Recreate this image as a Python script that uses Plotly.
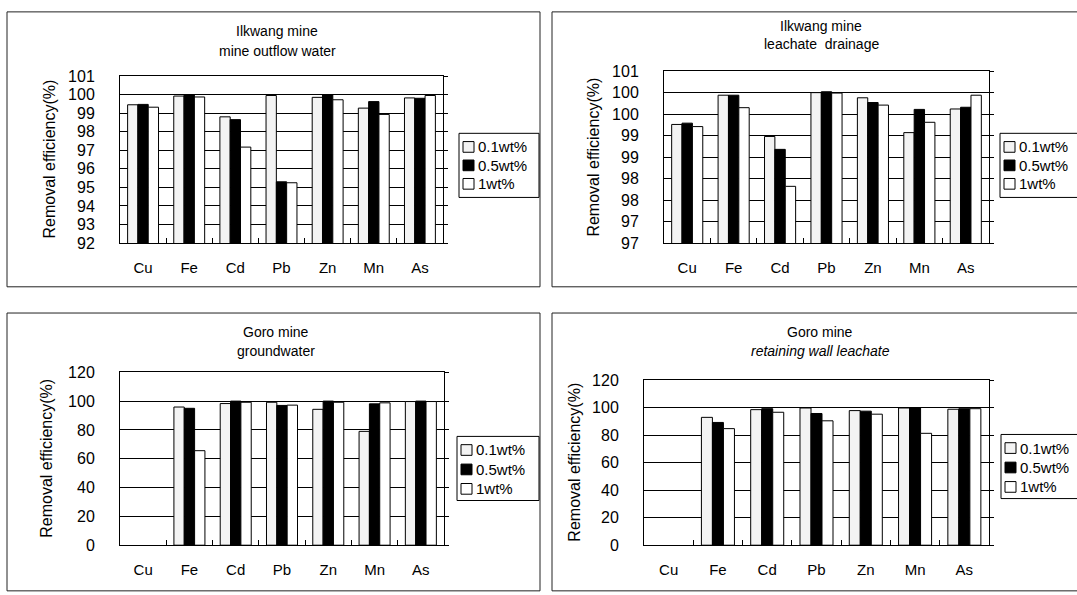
import plotly.graph_objects as go

W, H = 1077, 595

metals = ["Cu", "Fe", "Cd", "Pb", "Zn", "Mn", "As"]
doses = ["0.1wt%", "0.5wt%", "1wt%"]
dose_fills = ["#f3f3f3", "#000000", "#ffffff"]

# Ilkwang mine - mine outflow water (%)
outflow_01 = [99.45, 99.92, 98.80, 99.95, 99.85, 99.27, 99.82]
outflow_05 = [99.47, 99.98, 98.65, 95.30, 99.99, 99.62, 99.80]
outflow_1 = [99.32, 99.87, 97.17, 95.25, 99.72, 98.93, 99.95]

# Ilkwang mine - leachate drainage (%)
drainage_01 = [99.26, 99.94, 98.98, 100.00, 99.88, 99.07, 99.62]
drainage_05 = [99.29, 99.94, 98.68, 100.02, 99.77, 99.61, 99.66]
drainage_1 = [99.21, 99.65, 97.82, 99.99, 99.71, 99.31, 99.94]

# Goro mine - groundwater (%)
ground_01 = [None, 95.9, 98.3, 99.2, 94.3, 79.0, 99.7]
ground_05 = [None, 95.0, 100.0, 97.0, 100.0, 98.1, 100.0]
ground_1 = [None, 65.6, 99.2, 97.2, 99.2, 98.8, 99.7]

# Goro mine - retaining wall leachate (%)
wall_01 = [None, 92.9, 98.5, 99.7, 97.8, 99.7, 98.8]
wall_05 = [None, 89.2, 99.2, 95.7, 97.4, 99.7, 99.2]
wall_1 = [None, 84.7, 96.6, 90.4, 95.2, 81.3, 99.2]

# y-axis ticks
outflow_tickvals = [92, 93, 94, 95, 96, 97, 98, 99, 100, 101]
outflow_ticktext = ["92", "93", "94", "95", "96", "97", "98", "99", "100", "101"]
drainage_tickvals = [96.5, 97.0, 97.5, 98.0, 98.5, 99.0, 99.5, 100.0, 100.5]
drainage_ticktext = ["97", "97", "98", "98", "99", "99", "100", "100", "101"]
goro_tickvals = [0, 20, 40, 60, 80, 100, 120]
goro_ticktext = ["0", "20", "40", "60", "80", "100", "120"]

FONT = "Liberation Sans, Arial, sans-serif"


def fx(px):
    return px / W


def fy(py):
    return 1 - py / H


panels = [
    dict(series=[outflow_01, outflow_05, outflow_1],
         tickvals=outflow_tickvals, ticktext=outflow_ticktext, yrange=[92, 101],
         box=(120, 70, 443, 242),
         title=("Ilkwang mine", "mine outflow water"), title_xy=(277, 23.5, 44),
         ytitle_xy=(50, 156),
         frame=(7, 4, 540, 287),
         legend=(459, 129, 539, 195, [143, 162, 181])),
    dict(series=[drainage_01, drainage_05, drainage_1],
         tickvals=drainage_tickvals, ticktext=drainage_ticktext, yrange=[96.5, 100.5],
         box=(664, 65, 989, 242),
         title=("Ilkwang mine", "leachate&nbsp;&nbsp;drainage"), title_xy=(821, 18.5, 37.5),
         ytitle_xy=(594, 154),
         frame=(552, 4, 1082, 287),
         legend=(1000, 129, 1080, 195, [143, 162, 181])),
    dict(series=[ground_01, ground_05, ground_1],
         tickvals=goro_tickvals, ticktext=goro_ticktext, yrange=[0, 120],
         box=(120, 375, 444, 553),
         title=("Goro mine", "groundwater"), title_xy=(276, 333.5, 353),
         ytitle_xy=(47, 464),
         frame=(7, 314, 540, 600),
         legend=(457, 441, 539, 507, [455, 475, 495])),
    dict(series=[wall_01, wall_05, wall_1],
         tickvals=goro_tickvals, ticktext=goro_ticktext, yrange=[0, 120],
         box=(644, 383, 989, 553),
         title=("Goro mine", "<i>retaining wall leachate</i>"), title_xy=(820, 333.5, 353),
         ytitle_xy=(575, 468),
         frame=(552, 314, 1082, 600),
         legend=(1001, 439, 1080, 505, [453, 473, 493])),
]

fig = go.Figure()
layout = dict(
    width=W, height=H,
    margin=dict(l=0, r=0, t=0, b=0),
    paper_bgcolor="white", plot_bgcolor="white",
    barmode="group", bargap=0.33, bargroupgap=0.0,
    showlegend=False,
    font=dict(family=FONT, color="black"),
)
shapes = []
annotations = []

for i, p in enumerate(panels):
    n = i + 1
    xa = "x" if n == 1 else f"x{n}"
    ya = "y" if n == 1 else f"y{n}"
    yr = f"y{n + 4}"
    x0, y0, x1, y1 = p["box"]

    for name, vals, fill in zip(doses, p["series"], dose_fills):
        fig.add_trace(go.Bar(
            x=metals, y=vals, name=name, xaxis=xa, yaxis=ya,
            marker=dict(color=fill, line=dict(color="black", width=1)),
            showlegend=False, hoverinfo="skip",
        ))
    # empty trace that puts the right-hand tick axis on screen
    fig.add_trace(go.Scatter(
        x=metals, y=[None] * len(metals), xaxis=xa, yaxis=yr,
        mode="lines", showlegend=False, hoverinfo="skip",
    ))

    layout[f"xaxis{'' if n == 1 else n}"] = dict(
        domain=[fx(x0), fx(x1)], anchor=ya, type="category",
        categoryorder="array", categoryarray=metals,
        showline=True, linecolor="black", linewidth=1, mirror=True,
        ticks="inside", ticklen=5, tickcolor="black", tickson="boundaries",
        showgrid=False, zeroline=False,
        tickfont=dict(size=15, family=FONT, color="black"),
        ticklabelstandoff=11,
    )
    layout[f"yaxis{'' if n == 1 else n}"] = dict(
        domain=[fy(y1), fy(y0)], anchor=xa, range=p["yrange"],
        tickmode="array", tickvals=p["tickvals"], ticktext=p["ticktext"],
        showline=True, linecolor="black", linewidth=1, mirror=True,
        ticks="", showgrid=True, gridcolor="black", gridwidth=1, zeroline=False,
        tickfont=dict(size=16, family=FONT, color="black"),
        ticklabelstandoff=21,
    )
    # right-hand tick marks
    layout[f"yaxis{n + 4}"] = dict(
        domain=[fy(y1), fy(y0)], anchor=xa, overlaying=ya, side="right",
        range=p["yrange"], tickmode="array", tickvals=p["tickvals"],
        showticklabels=False, ticks="outside", ticklen=4, tickcolor="black",
        showgrid=False, zeroline=False, showline=False,
    )

    # two-line title
    tx, ty1, ty2 = p["title_xy"]
    for txt, ty in zip(p["title"], (ty1, ty2)):
        annotations.append(dict(
            x=fx(tx), y=fy(ty), xref="paper", yref="paper", text=txt,
            showarrow=False, xanchor="center", yanchor="middle",
            font=dict(size=14, family=FONT, color="black"),
        ))

    # y-axis title
    yx, yy = p["ytitle_xy"]
    annotations.append(dict(
        x=fx(yx), y=fy(yy), xref="paper", yref="paper",
        text="Removal efficiency(%)", textangle=-90, showarrow=False,
        xanchor="center", yanchor="middle",
        font=dict(size=16, family=FONT, color="black"),
    ))

    # panel frame
    fx0, fy0, fx1, fy1 = p["frame"]
    shapes.append(dict(
        type="rect", xref="paper", yref="paper",
        x0=fx(fx0), x1=fx(fx1), y0=fy(fy1), y1=fy(fy0),
        line=dict(color="#222222", width=1), fillcolor="rgba(0,0,0,0)", layer="below",
    ))

    # legend box
    lx0, ly0, lx1, ly1, rows = p["legend"]
    shapes.append(dict(
        type="rect", xref="paper", yref="paper",
        x0=fx(lx0), x1=fx(lx1), y0=fy(ly1), y1=fy(ly0),
        line=dict(color="black", width=1), fillcolor="white", layer="above",
    ))
    for name, fill, ry in zip(doses, dose_fills, rows):
        sx = lx0 + 4
        shapes.append(dict(
            type="rect", xref="paper", yref="paper",
            x0=fx(sx), x1=fx(sx + 11), y0=fy(ry + 5.5), y1=fy(ry - 5.5),
            line=dict(color="black", width=1), fillcolor=fill, layer="above",
        ))
        annotations.append(dict(
            x=fx(sx + 13), y=fy(ry), xref="paper", yref="paper", text=name,
            showarrow=False, xanchor="left", yanchor="middle",
            font=dict(size=15, family=FONT, color="black"),
        ))

layout["shapes"] = shapes
layout["annotations"] = annotations
fig.update_layout(**layout)

fig.write_html("out.html")
